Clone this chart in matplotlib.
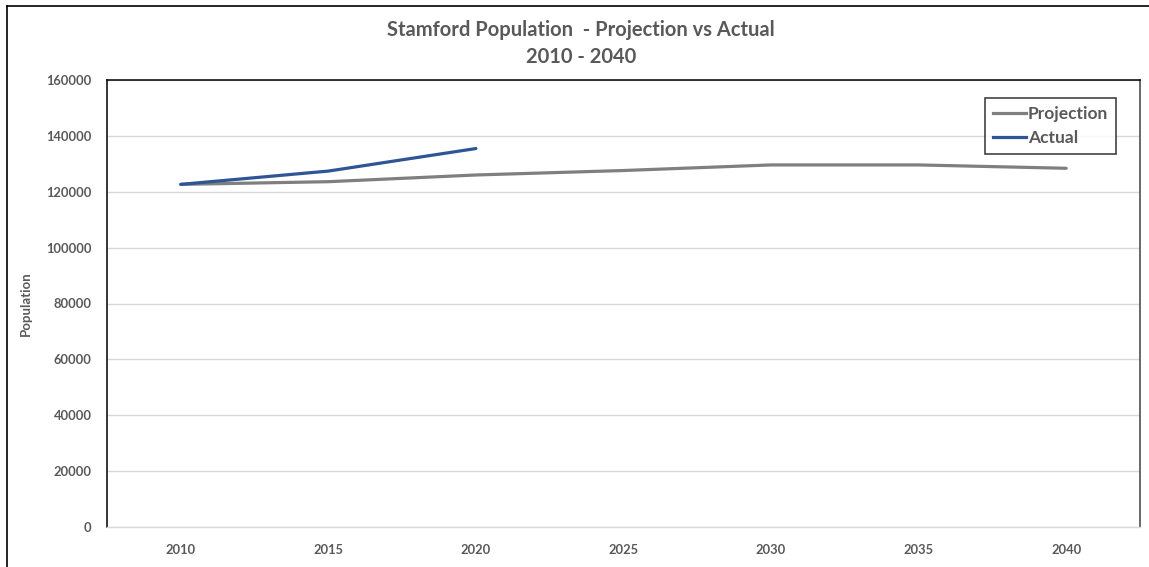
#!/usr/bin/env python3
"""Stamford population: projected vs actual, 2010-2040."""

import matplotlib

matplotlib.use("Agg")
import matplotlib.pyplot as plt
from matplotlib.lines import Line2D

YEARS = ["2010", "2015", "2020", "2025", "2030", "2035", "2040"]
PROJECTION = [122643, 123600, 126000, 127600, 129600, 129600, 128400]
ACTUAL = [122643, 127400, 135470]

GRAY_TEXT = "#595959"
PROJ_COLOR = "#7f7f7f"
ACTUAL_COLOR = "#2f5597"
GRID = "#d9d9d9"
FONT = "Lato"

plt.rcParams["font.family"] = [FONT, "DejaVu Sans"]

fig = plt.figure(figsize=(11.49, 5.67), dpi=100)
ax = fig.add_axes([107 / 1149, 1 - 527 / 567, 1033 / 1149, 447 / 567])

x = list(range(len(YEARS)))
ax.plot(x, PROJECTION, color=PROJ_COLOR, lw=2.3, solid_capstyle="round",
        label="Projection")
ax.plot(x[: len(ACTUAL)], ACTUAL, color=ACTUAL_COLOR, lw=2.3,
        solid_capstyle="round", label="Actual")

ax.set_xlim(-0.5, len(YEARS) - 0.5)
ax.set_ylim(0, 160000)
ax.set_yticks(range(0, 160001, 20000))
ax.set_xticks(x)
ax.set_xticklabels(YEARS)
ax.yaxis.grid(True, color=GRID, lw=1)
ax.set_axisbelow(True)
ax.tick_params(length=0, labelsize=9.3, labelcolor=GRAY_TEXT)
ax.tick_params(axis="y", pad=11)
ax.tick_params(axis="x", pad=12)
for lbl in ax.get_xticklabels() + ax.get_yticklabels():
    lbl.set_fontweight("bold")

for side in ("left", "top", "right"):
    ax.spines[side].set_color("#000000")
    ax.spines[side].set_linewidth(1.1)
ax.spines["right"].set_color("#404040")
ax.spines["bottom"].set_color(GRID)
ax.spines["bottom"].set_linewidth(1)

ax.set_ylabel("Population", fontsize=9.5, fontweight="bold", color=GRAY_TEXT,
              labelpad=10)

handles = [
    Line2D([], [], color=PROJ_COLOR, lw=2.3),
    Line2D([], [], color=ACTUAL_COLOR, lw=2.3),
]
leg = ax.legend(handles, ["Projection", "Actual"], loc="upper right",
                bbox_to_anchor=((1116 - 107) / 1033, (527 - 98) / 447),
                borderaxespad=0, frameon=True, fancybox=False,
                edgecolor="#000000", handlelength=1.9, handletextpad=0.1,
                borderpad=0.45, labelspacing=0.5,
                prop={"size": 12.5, "weight": "bold"})
leg.get_frame().set_linewidth(1.1)
for t in leg.get_texts():
    t.set_color(GRAY_TEXT)

fig.text(581 / 1149, 1 - 30 / 567, "Stamford Population  - Projection vs Actual",
         ha="center", va="center", fontsize=14.5, fontweight="bold",
         color=GRAY_TEXT)
fig.text(581 / 1149, 1 - 57 / 567, "2010 - 2040", ha="center", va="center",
         fontsize=14.5, fontweight="bold", color=GRAY_TEXT)

# outer chart frame (top and left edges)
fig.add_artist(Line2D([7 / 1149, 1], [1 - 6 / 567, 1 - 6 / 567],
                      transform=fig.transFigure, color="#000000", lw=1.2))
fig.add_artist(Line2D([7 / 1149, 7 / 1149], [0, 1 - 6 / 567],
                      transform=fig.transFigure, color="#000000", lw=1.2))

fig.savefig("out.png", dpi=100)
